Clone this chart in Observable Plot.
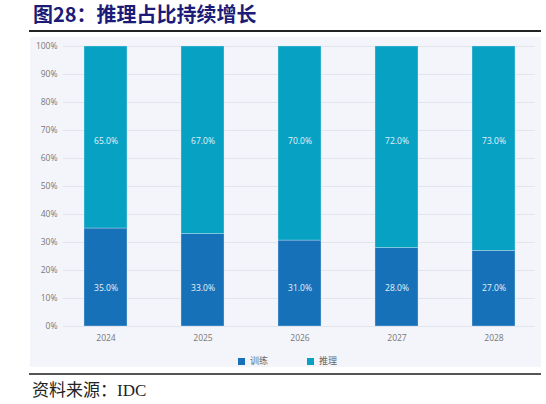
<!DOCTYPE html>
<html>
<head>
<meta charset="utf-8">
<script src="https://cdn.jsdelivr.net/npm/d3@7"></script>
<script src="https://cdn.jsdelivr.net/npm/@observablehq/plot@0.6"></script>
<style>
  html, body { margin: 0; padding: 0; background: #fff; }
  #wrap { position: relative; width: 546px; height: 404px; overflow: hidden; font-family: "Open Sans", "Noto Sans CJK SC", sans-serif; }
  #title { position: absolute; left: 33px; top: 2px; font-family: "Noto Sans CJK SC", sans-serif; font-weight: 700; font-size: 20px; line-height: 24px; color: #1c1c78; white-space: nowrap; }
  #tline { position: absolute; left: 29px; top: 30px; width: 512px; height: 2px; background: #222; }
  #panel { position: absolute; left: 30px; top: 37px; width: 511px; height: 330px; background: #f4f5fa; }
  #chart { position: absolute; left: 30px; top: 37px; }
  #bline { position: absolute; left: 29px; top: 373px; width: 512px; height: 2px; background: #555; }
  #source { position: absolute; left: 32px; top: 380px; font-family: "Liberation Serif", "Noto Sans CJK SC", serif; font-size: 17px; line-height: 22px; color: #222; white-space: nowrap; }
  .leg { position: absolute; top: 354px; font-size: 9px; line-height: 13px; color: #666; font-family: "Noto Sans CJK SC", sans-serif; white-space: nowrap; }
  .leg i { display: inline-block; width: 7px; height: 7px; margin-right: 5px; vertical-align: -0.5px; }
</style>
</head>
<body>
<div id="wrap">
  <div id="title">图28：推理占比持续增长</div>
  <div id="tline"></div>
  <div id="panel"></div>
  <div id="chart"></div>
  <div id="legend"></div>
  <div id="bline"></div>
  <div id="source">资料来源：IDC</div>
</div>
<script>
const years = ["2024", "2025", "2026", "2027", "2028"];
const seriesNames = ["训练", "推理"];
const training = [35.0, 33.0, 31.0, 28.0, 27.0];
const inference = [65.0, 67.0, 70.0, 72.0, 73.0];
const colors = ["#1771b8", "#07a1c4"];
const yTicks = [0, 0.1, 0.2, 0.3, 0.4, 0.5, 0.6, 0.7, 0.8, 0.9, 1.0];
const labelLevel = [0.138, 0.662]; // label heights used by the source chart (share of axis)

const rows = [];
years.forEach((y, i) => {
  rows.push({year: y, series: seriesNames[0], value: training[i], level: labelLevel[0]});
  rows.push({year: y, series: seriesNames[1], value: inference[i], level: labelLevel[1]});
});

const chart = Plot.plot({
  width: 511,
  height: 330,
  marginLeft: 33,
  marginRight: 6,
  marginTop: 9,
  marginBottom: 41,
  style: {fontFamily: '"Open Sans", "Noto Sans CJK SC", sans-serif', fontSize: "8.5px", color: "#777", background: "transparent"},
  x: {domain: years, paddingInner: 0.56, paddingOuter: 0.2, label: null},
  y: {domain: [0, 1], label: null},
  color: {domain: seriesNames, range: colors},
  marks: [
    Plot.gridY(yTicks, {stroke: "#e3e5ee", strokeOpacity: 1}),
    Plot.axisY(yTicks, {tickSize: 0, tickPadding: 6, tickFormat: d3.format(".0%"), fill: "#777", fontSize: 8.5}),
    Plot.axisX({tickSize: 0, tickPadding: 8, fill: "#777", fontSize: 8.5}),
    Plot.barY(rows, Plot.stackY({offset: "normalize", order: seriesNames}, {x: "year", y: "value", fill: "series", stroke: "#d6e8f5", strokeOpacity: 0.45, strokeWidth: 0.8})),
    Plot.text(rows, {x: "year", y: "level", text: d => d.value.toFixed(1) + "%", fill: "#e6f2f8", fontSize: 8.5})
  ]
});
document.getElementById("chart").appendChild(chart);

const legend = document.getElementById("legend");
const legX = [238, 307];
seriesNames.forEach((s, i) => {
  const d = document.createElement("div");
  d.className = "leg";
  d.style.left = legX[i] + "px";
  d.innerHTML = `<i style="background:${colors[i]}"></i>${s}`;
  legend.appendChild(d);
});
</script>
</body>
</html>
